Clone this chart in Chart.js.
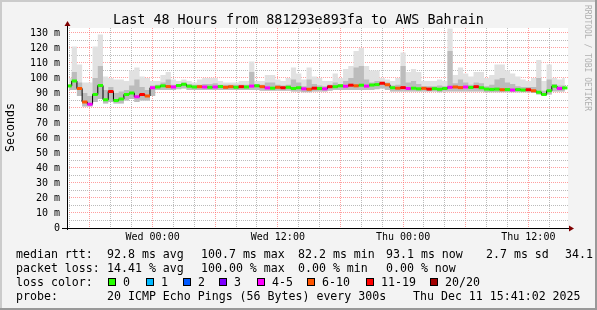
<!DOCTYPE html>
<html>
<head>
<meta charset="utf-8">
<script src="https://cdn.jsdelivr.net/npm/chart.js@4/dist/chart.umd.min.js"></script>
<style>
  html, body { margin: 0; padding: 0; background: #f3f3f3; }
</style>
</head>
<body>
<canvas id="smoke" width="597" height="310"></canvas>
<script>
// sample times, hours relative to Wed 00:00
const hours = [
  -8, -7.5, -7, -6.5, -6, -5.5, -5, -4.5, -4, -3.5, -3, -2.5, -2, -1.5, -1, -0.5,
  0, 0.5, 1, 1.5, 2, 2.5, 3, 3.5, 4, 4.5, 5, 5.5, 6, 6.5, 7, 7.5,
  8, 8.5, 9, 9.5, 10, 10.5, 11, 11.5, 12, 12.5, 13, 13.5, 14, 14.5, 15, 15.5,
  16, 16.5, 17, 17.5, 18, 18.5, 19, 19.5, 20, 20.5, 21, 21.5, 22, 22.5, 23, 23.5,
  24, 24.5, 25, 25.5, 26, 26.5, 27, 27.5, 28, 28.5, 29, 29.5, 30, 30.5, 31, 31.5,
  32, 32.5, 33, 33.5, 34, 34.5, 35, 35.5, 36, 36.5, 37, 37.5, 38, 38.5, 39, 39.5
];

// median rtt (ms)
const median = [
  94.7, 98, 93, 84, 82.5, 89, 95, 85.5, 91, 85, 86, 89, 90, 87.5, 89, 88,
  93.5, 94, 94.8, 94.3, 94, 95, 95.8, 94.5, 94, 94.2, 94, 93.8, 94, 94.3, 93.8, 94.2,
  93.8, 94.2, 94, 94.6, 94.8, 94.2, 93.4, 93.2, 93.8, 93.5, 93.8, 93, 93.5, 92.8, 92.5, 93.2,
  93, 92.8, 94.2, 94.2, 94.8, 94.5, 95.2, 94.8, 95.2, 94.6, 95.3, 95.6, 96.5, 95.5, 93.5, 93.2,
  93.6, 93, 93.2, 92.8, 93.1, 92.6, 92.9, 92.5, 93, 93.8, 94, 93.6, 94, 93.7, 94.2, 93.5,
  92.6, 92.4, 92.6, 92.2, 92.3, 92, 92.3, 92, 92.2, 91.5, 90.5, 89, 91.5, 94.5, 93, 93.4
];

// lost pings out of 20
const lost = [
  0, 0, 7, 7, 4, 0, 0, 0, 12, 0, 0, 0, 0, 4, 12, 7,
  4, 0, 0, 7, 4, 0, 0, 0, 0, 7, 4, 0, 4, 0, 7, 7,
  0, 12, 0, 4, 0, 7, 4, 0, 7, 12, 0, 0, 0, 4, 7, 12,
  0, 4, 12, 0, 0, 4, 12, 7, 0, 4, 0, 0, 12, 7, 0, 7,
  12, 4, 0, 0, 7, 12, 0, 0, 0, 4, 7, 7, 4, 0, 12, 0,
  0, 0, 0, 7, 0, 4, 0, 0, 12, 7, 0, 0, 0, 0, 4, 0
];

// smoke: slowest ping
const smokeHi = [
  100, 121, 109, 97, 97, 121, 129, 101, 100, 99, 99, 98, 105, 107, 101, 100,
  98, 98, 102, 104, 99, 98, 99, 98, 97, 99, 100, 100, 100, 98, 97, 97,
  97, 98, 98, 111, 98, 98, 102, 102, 99, 98, 100, 107, 103, 99, 107, 101,
  100, 98, 98, 103, 100, 106, 108, 118, 120, 108, 105, 105, 100, 99, 98, 100,
  117, 104, 106, 104, 98, 98, 98, 99, 98, 133, 102, 107, 103, 101, 104, 104,
  100, 102, 109, 109, 105, 103, 101, 99, 98, 100, 112, 98, 109, 100, 99, 100
];

// smoke: dense part of the pings
const smokeMid = [
  96, 104, 97, 90, 88, 100, 108, 92, 94, 90, 91, 92, 95, 99, 94, 92,
  95, 95.5, 97, 99, 95.5, 96, 97, 96, 95.5, 95.5, 96, 96, 96.5, 95.5, 95.5, 95.5,
  95.5, 95.5, 95.5, 104, 96, 95.5, 97, 97, 95.5, 95, 95.5, 99, 97, 94.5, 99, 96,
  95, 94.5, 95.5, 97, 96, 98, 100, 107, 108, 99, 97, 98, 97.5, 97, 95, 95.5,
  108, 97, 98, 96, 94.5, 94.5, 94.5, 95, 94.5, 118, 96.5, 99, 97, 95.5, 97, 96.5,
  94.5, 95.5, 99, 100, 97, 96, 94.5, 94, 94, 94, 100, 91.5, 99, 96, 95, 95
];

// smoke: fastest ping
const smokeLo = [
  92, 92, 88, 81, 81, 84, 86, 83, 84, 83, 83, 85, 86, 84, 85, 85,
  88, 92, 92, 92, 92, 92.5, 93, 92, 92, 92, 92, 92, 92, 92, 92, 92,
  92, 92, 92, 92, 92, 91.5, 91.5, 91.5, 91.5, 91.5, 91.5, 91, 91, 90.5, 90.5, 91,
  91, 91, 91.5, 92, 92, 92, 92, 92, 92, 92, 92, 92.5, 93, 92, 91, 91,
  91, 91, 91, 91, 91, 91, 91, 90.5, 91, 91, 91, 91, 91, 91, 91, 91,
  90.5, 90.5, 90.5, 90.5, 90.5, 90.5, 90.5, 90.5, 90.5, 90, 89, 88, 89, 91, 91, 91
];

const yTicks = [0, 5, 10, 15, 20, 25, 30, 35, 40, 45, 50, 55, 60, 65, 70, 75, 80, 85, 90, 95, 100, 105, 110, 115, 120, 125, 130];
const xTicks = [-8, -6, -4, -2, 0, 2, 4, 6, 8, 10, 12, 14, 16, 18, 20, 22, 24, 26, 28, 30, 32, 34, 36, 38];
const xLabelHours = [0, 12, 24, 36];
const xLabelText = ['Wed 00:00', 'Wed 12:00', 'Thu 00:00', 'Thu 12:00'];

const lossLabels = ['0', '1', '2', '3', '4-5', '6-10', '11-19', '20/20'];
const lossColors = ['#26ff00', '#00b8ff', '#0059ff', '#7e00ff', '#ff00ff', '#ff5500', '#ff0000', '#a10000'];

const rttStats = ['92.8 ms avg', '100.7 ms max', '82.2 ms min', '93.1 ms now', '2.7 ms sd', '34.1'];
const lossStats = ['14.41 % avg', '100.00 % max', '0.00 % min', '0.00 % now'];
const probeText = '20 ICMP Echo Pings (56 Bytes) every 300s';
const stampText = 'Thu Dec 11 15:41:02 2025';
const titleText = 'Last 48 Hours from 881293e893fa to AWS Bahrain';

function lossBin(n) {
  if (n <= 3) return n;
  if (n <= 5) return 4;
  if (n <= 10) return 5;
  if (n <= 19) return 6;
  return 7;
}

const pts = arr => hours.map((h, i) => ({ x: h, y: arr[i] }));
const MONO = "'DejaVu Sans Mono', monospace";

Chart.defaults.font.family = MONO;
Chart.defaults.color = '#000';

const rrdLook = {
  id: 'rrdLook',
  beforeDraw(chart) {
    const { ctx, chartArea: a, width, height } = chart;
    ctx.save();
    ctx.fillStyle = '#f3f3f3';
    ctx.fillRect(0, 0, width, height);
    ctx.fillStyle = '#ffffff';
    ctx.fillRect(a.left, a.top, a.right - a.left, a.bottom - a.top);
    ctx.restore();
  },
  afterDraw(chart) {
    const { ctx, chartArea: a, width, height } = chart;
    ctx.save();

    // axis lines and arrows
    ctx.strokeStyle = '#000';
    ctx.lineWidth = 1;
    ctx.beginPath();
    ctx.moveTo(a.left - 5, a.bottom + 0.5);
    ctx.lineTo(a.right + 2, a.bottom + 0.5);
    ctx.moveTo(a.left + 0.5, a.bottom + 2);
    ctx.lineTo(a.left + 0.5, a.top - 3);
    ctx.stroke();
    ctx.fillStyle = '#7f0000';
    ctx.beginPath();
    ctx.moveTo(a.left + 0.5, a.top - 7);
    ctx.lineTo(a.left - 2.5, a.top - 2);
    ctx.lineTo(a.left + 3.5, a.top - 2);
    ctx.closePath();
    ctx.fill();
    ctx.beginPath();
    ctx.moveTo(a.right + 6, a.bottom + 0.5);
    ctx.lineTo(a.right + 1, a.bottom - 2.5);
    ctx.lineTo(a.right + 1, a.bottom + 3.5);
    ctx.closePath();
    ctx.fill();

    // title
    ctx.fillStyle = '#000';
    ctx.font = '13.4px ' + MONO;
    ctx.textAlign = 'center';
    ctx.textBaseline = 'alphabetic';
    ctx.fillText(titleText, width / 2, 24);

    // y axis title
    ctx.save();
    ctx.translate(11, 127.5);
    ctx.rotate(-Math.PI / 2);
    ctx.font = '11.6px ' + MONO;
    ctx.textBaseline = 'middle';
    ctx.fillText('Seconds', 0, 0);
    ctx.restore();

    // watermark
    ctx.save();
    ctx.translate(587, 5);
    ctx.rotate(Math.PI / 2);
    ctx.font = '8px ' + MONO;
    ctx.fillStyle = '#b0b0b0';
    ctx.textAlign = 'left';
    ctx.textBaseline = 'middle';
    ctx.fillText('RRDTOOL / TOBI OETIKER', 0, 0);
    ctx.restore();

    // legend rows
    ctx.font = '11.6px ' + MONO;
    ctx.textAlign = 'left';
    ctx.textBaseline = 'alphabetic';
    ctx.fillStyle = '#000';
    const col = [107, 201, 298, 386, 486, 565];
    ctx.fillText('median rtt:', 16, 258);
    rttStats.forEach((s, i) => ctx.fillText(s, col[i], 258));
    ctx.fillText('packet loss:', 16, 272);
    lossStats.forEach((s, i) => ctx.fillText(s, col[i], 272));
    ctx.fillText('loss color:', 16, 286);
    const boxX = [108, 146, 183, 219, 257, 307, 366, 430];
    lossLabels.forEach((lab, i) => {
      ctx.fillStyle = lossColors[i];
      ctx.fillRect(boxX[i], 278, 8, 8);
      ctx.strokeStyle = '#000';
      ctx.strokeRect(boxX[i] + 0.5, 278.5, 7, 7);
      ctx.fillStyle = '#000';
      ctx.fillText(lab, boxX[i] + 15, 286);
    });
    ctx.fillText('probe:', 16, 300);
    ctx.fillText(probeText, 107, 300);
    ctx.fillText(stampText, 413, 300);

    // frame
    ctx.fillStyle = '#cbcbcb';
    ctx.fillRect(0, 0, width, 2);
    ctx.fillRect(0, 0, 2, height);
    ctx.fillStyle = '#999999';
    ctx.fillRect(0, height - 2, width, 2);
    ctx.fillRect(width - 2, 0, 2, height);
    ctx.restore();
  }
};

new Chart(document.getElementById('smoke'), {
  type: 'line',
  data: {
    datasets: [
      { label: 'lo', data: pts(smokeLo), stepped: 'middle', borderColor: 'transparent', borderWidth: 0, pointRadius: 0, fill: false, order: 6 },
      { label: 'hi', data: pts(smokeHi), stepped: 'middle', borderColor: 'transparent', borderWidth: 0, pointRadius: 0, backgroundColor: '#e1e1e1', fill: 0, order: 5 },
      { label: 'mid', data: pts(smokeMid), stepped: 'middle', borderColor: 'transparent', borderWidth: 0, pointRadius: 0, backgroundColor: '#bcbcbc', fill: 0, order: 4 },
      { label: 'median', data: pts(median), stepped: 'middle', borderColor: '#000', borderWidth: 1, pointRadius: 0, fill: false, order: 2 },
      {
        label: 'loss',
        data: pts(median),
        showLine: false,
        pointStyle: 'line',
        pointRadius: 2.6,
        pointBorderWidth: 3,
        pointBorderColor: lost.map(n => lossColors[lossBin(n)]),
        pointBackgroundColor: lost.map(n => lossColors[lossBin(n)]),
        order: 1
      }
    ]
  },
  options: {
    responsive: false,
    animation: false,
    events: [],
    devicePixelRatio: 1,
    layout: { padding: { left: 0, top: 28, right: 29, bottom: 62 } },
    plugins: { legend: { display: false }, tooltip: { enabled: false } },
    scales: {
      x: {
        type: 'linear',
        min: -8.2,
        max: 39.8,
        afterFit: s => { s.height = 20; },
        afterBuildTicks: s => { s.ticks = xTicks.map(v => ({ value: v })); },
        ticks: {
          autoSkip: false,
          maxRotation: 0,
          padding: 3,
          font: { size: 10 },
          callback: v => {
            const k = xLabelHours.indexOf(v);
            return k >= 0 ? xLabelText[k] : '';
          }
        },
        grid: {
          drawTicks: false,
          color: c => (c.tick && c.tick.value % 6 === 0) ? 'rgba(255,95,95,0.6)' : 'rgba(170,170,170,0.8)'
        },
        border: { display: false, dash: [1, 1] }
      },
      y: {
        min: 0,
        max: 133.33,
        afterFit: s => { s.width = 67; },
        afterBuildTicks: s => { s.ticks = yTicks.map(v => ({ value: v })); },
        ticks: {
          autoSkip: false,
          padding: 7,
          font: { size: 10 },
          callback: v => v % 10 === 0 ? (v === 0 ? '0' : v + ' m') : ''
        },
        grid: {
          drawTicks: false,
          color: c => (c.tick && c.tick.value % 10 === 0) ? 'rgba(255,95,95,0.6)' : 'rgba(170,170,170,0.8)'
        },
        border: { display: false, dash: [1, 1] }
      }
    }
  },
  plugins: [rrdLook]
});
</script>
</body>
</html>
